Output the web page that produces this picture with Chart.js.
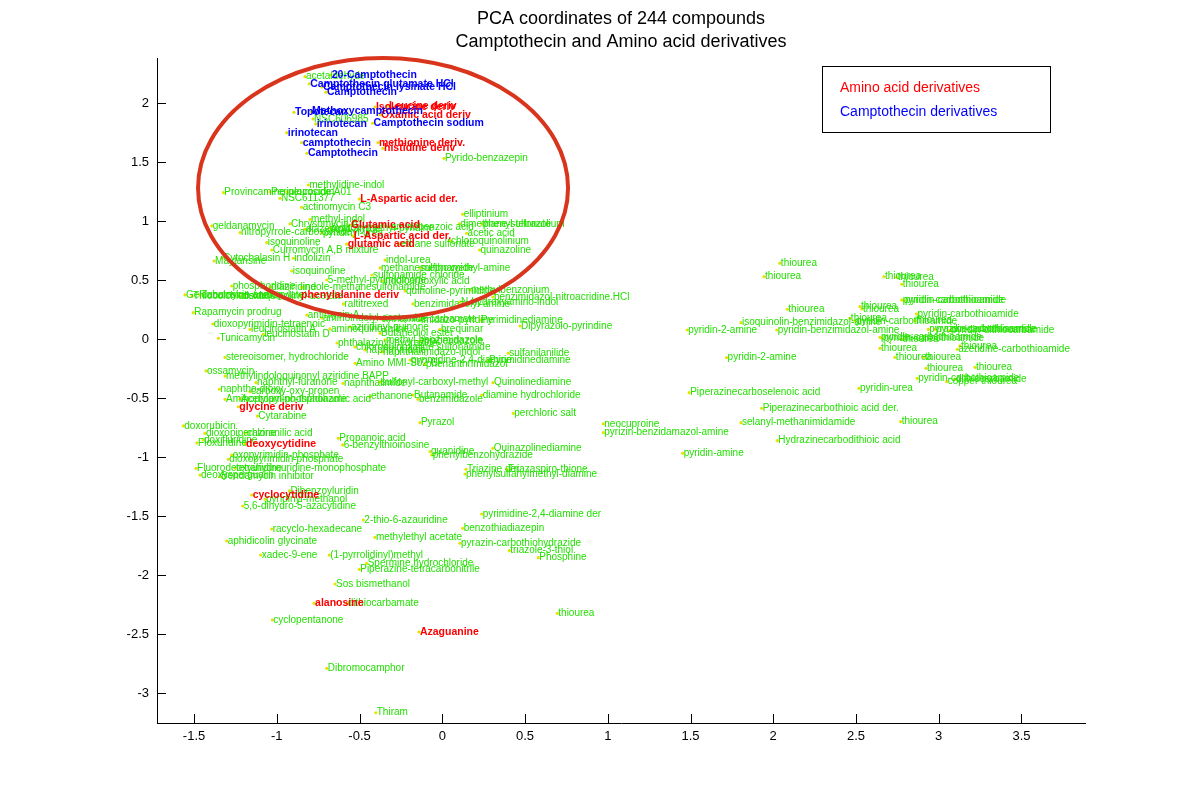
<!DOCTYPE html>
<html>
<head>
<meta charset="utf-8">
<script src="https://cdn.jsdelivr.net/npm/chart.js@4/dist/chart.umd.min.js"></script>
<style>
  html, body { margin: 0; padding: 0; background: #fff; }
  canvas { display: block; }
</style>
</head>
<body>
<canvas id="pca" width="1200" height="812"></canvas>
<script>
// axis ticks
const xTicks = [-1.5, -1, -0.5, 0, 0.5, 1, 1.5, 2, 2.5, 3, 3.5];
const yTicks = [-3, -2.5, -2, -1.5, -1, -0.5, 0, 0.5, 1, 1.5, 2];

// Camptothecin derivatives (blue)
const blueNames = ["20-Camptothecin", "Camptothecin glutamate HCl", "Camptothecin lysinate HCl", "Camptothecin",
  "Topotecan", "Methoxycamptothecin", "irinotecan", "Camptothecin sodium", "irinotecan", "camptothecin", "Camptothecin"];
const blueX = [-0.674, -0.804, -0.727, -0.703, -0.896, -0.793, -0.765, -0.421, -0.940, -0.850, -0.818];
const blueY = [2.237, 2.161, 2.136, 2.091, 1.921, 1.928, 1.822, 1.828, 1.748, 1.664, 1.574];

// Amino acid derivatives (red)
const redNames = ["Isoleucine deriv", "Leucine deriv", "Oxamic acid deriv", "methionine deriv.", "histidine deriv",
  "L-Aspartic acid der.", "Glutamic acid", "L-Aspartic acid der.", "glutamic acid", "phenylalanine deriv",
  "glycine deriv", "deoxycytidine", "cyclocytidine", "alanosine", "Azaguanine"];
const redX = [-0.407, -0.328, -0.376, -0.389, -0.358, -0.502, -0.558, -0.541, -0.578, -0.860,
  -1.233, -1.192, -1.152, -0.775, -0.141];
const redY = [1.966, 1.975, 1.898, 1.664, 1.616, 1.186, 0.966, 0.873, 0.803, 0.369,
  -0.574, -0.890, -1.322, -2.240, -2.483];

// other compounds (green)
const greenNames = [
  "acetaldehyde", "NSC606985", "Pyrido-benzazepin", "methylidine-indol", "Provincamine",
  "Periplocoside A01", "neurocidin", "NSC611377", "actinomycin C3", "methyl-indol",
  "geldanamycin", "Chrysomycin A", "diazepinyl-amide", "aminobenzoic acid", "nitropyrrole-carboxamide",
  "pyridinyl-urea", "isoquinoline", "Curromycin A,B mixture", "Cytochalasin H", "Maytansine",
  "indolizin", "indol-urea", "isoquinoline", "methanesulfonamide", "methoxyethyl-amine",
  "5-methyl-pyrimidinone", "indole-methanesulfonamide", "phosphoridine", "diaziridine", "Geldanamycin analog",
  "Thiocolchicoside", "Tubulosine-carboxylate", "dioxoquinolinyl-acetate", "sulfonamide chloride", "indolcarboxylic acid",
  "quinoline-pyrimidine", "methylbenzonium", "benzimidazol-nitroacridine.HCl", "elliptinium", "dimethane-sulfonate",
  "phenyl-tetrazolium", "acetic acid", "ethane sulfonate", "chloroquinolinium", "quinazoline",
  "hydroxymethyl-pyridine", "raltitrexed", "benzimidazolyl-amine", "N-hydroxyamino-indol", "Rapamycin prodrug",
  "antimycin A", "aminoindolyl-acetamide", "cinnamide carbamate", "imidazo-pyridine", "Pyrimidinediamine",
  "Dipyrazolo-pyrindine", "dioxopyrimidin-tetraenoic", "leucinostatin A", "leucinostatin D", "aminoquinoxaline",
  "aziridinyl-quinone", "brequinar", "Tunicamycin", "Butanediol ester", "methyl-benzimidazole",
  "thiabendazole", "phthalazinyl-hydrazide", "chloroquinoxaline sulfonamide", "naphthyridine", "naphthalimidazo-indol",
  "sulfanilanilide", "pyrimidine-2,4-diamine", "Pyrimidinediamine", "stereoisomer, hydrochloride", "Amino MMI-S02 Cl",
  "phenanthrimidazol", "ossamycin", "methylindoloquinonyl aziridine BAPP", "naphthyl-furanone", "naphthalimide",
  "sulfonyl-carboxyl-methyl", "Quinolinediamine", "naphtho-dioxy", "carboxy-oxy-propen", "ethanone",
  "Butanamide", "diamine hydrochloride", "benzimidazole", "Aminopropyl-phosphonamic acid", "Acetylamino-thiadiazole",
  "perchloric salt", "Cytarabine", "Pyrazol", "doxorubicin", "dioxopiperazine",
  "chloranilic acid", "Floxuridine", "doxifluridine", "Propanoic acid", "6-benzylthioinosine",
  "neocuproine", "pyrizin-benzidamazol-amine", "Quinazolinediamine", "guanidine", "phenylbenzohydrazide",
  "oxopyrimidin-phosphate", "dioxopyrimidin-phosphate", "Fluorodeoxyuridine", "tetrahydrouridine-monophosphate", "deoxyspergualin",
  "Bendamycin inhibitor", "Triazine der.", "Triazaspiro-thione", "phenylsulfanylmethyl-diamine", "Dibenzoyluridin",
  "pyridinyl-methanol", "5,6-dihydro-5-azacytidine", "2-thio-6-azauridine", "pyrimidine-2,4-diamine der", "racyclo-hexadecane",
  "benzothiadiazepin", "methylethyl acetate", "aphidicolin glycinate", "pyrazin-carbothiohydrazide", "triazole-3-thiol",
  "Phosphine", "xadec-9-ene", "(1-pyrrolidinyl)methyl", "Spermine hydrochloride", "Piperazine-tetracarbonitrile",
  "Sos bismethanol", "dithiocarbamate", "thiourea", "cyclopentanone", "Dibromocamphor",
  "Thiram", "thiourea", "thiourea", "thiourea", "isoquinolin-benzimidazol-amine",
  "pyridin-2-amine", "pyridin-benzimidazol-amine", "pyridin-2-amine", "Piperazinecarboselenoic acid", "Piperazinecarbothioic acid der.",
  "selanyl-methanimidamide", "Hydrazinecarbodithioic acid", "pyridin-amine", "pyridin-urea", "thiourea",
  "thiourea", "thiourea", "pyridin-carbothioamide", "pyridin-carbothioamide", "thiourea",
  "thiourea", "pyridin-carbothioamide", "thiourea", "pyridin-carbothioamide", "thiourea",
  "pyrazinecarbothioamide", "pyridin-carbothioamide", "pyridin-dithiocarbamide", "pyridin-carbothioamide", "pyridin-carbothioamide",
  "thiourea", "thiourea", "thiourea", "azetidine-carbothioamide", "thiourea",
  "thiourea", "thiourea", "thiourea", "pyridin-carbothioamide", "copper thiourea",
  "dithiocarbamide", "thiourea"
];
const greenX = [
  -0.830, -0.781, 0.010, -0.810, -1.323, -1.041, -0.938, -0.981, -0.850, -0.799,
  -1.393, -0.920, -0.830, -0.316, -1.222, -0.727, -1.061, -1.031, -1.331, -1.379,
  -0.900, -0.346, -0.910, -0.376, -0.135, -0.698, -0.850, -1.273, -1.040, -1.555,
  -1.512, -1.464, -1.223, -0.425, -0.365, -0.225, 0.167, 0.306, 0.123, 0.103,
  0.240, 0.147, -0.256, 0.047, 0.225, -0.678, -0.598, -0.177, 0.107, -1.505,
  -0.819, -0.727, -0.376, -0.135, 0.228, 0.470, -1.387, -1.162, -1.082, -0.679,
  -0.558, -0.014, -1.353, -0.376, -0.346, -0.135, -0.636, -0.528, -0.467, -0.365,
  0.399, -0.195, 0.276, -1.313, -0.527, -0.105, -1.428, -1.313, -1.126, -0.600,
  -0.376, 0.306, -1.347, -1.162, -0.437, -0.177, 0.238, -0.147, -1.313, -1.223,
  0.429, -1.118, -0.135, -1.565, -1.434, -1.186, -1.482, -1.446, -0.628, -0.602,
  0.973, 0.973, 0.305, -0.074, -0.064, -1.273, -1.293, -1.488, -1.253, -1.464,
  -1.343, 0.143, 0.391, 0.137, -0.924, -1.071, -1.206, -0.477, 0.238, -1.031,
  0.123, -0.407, -1.303, 0.107, 0.405, 0.580, -1.097, -0.683, -0.457, -0.502,
  -0.648, -0.578, 0.695, -1.027, -0.698, -0.402, 2.040, 1.944, 2.085, 1.805,
  1.480, 2.021, 1.718, 1.492, 1.930, 1.805, 2.024, 1.453, 2.518, 2.669,
  2.746, 2.776, 2.776, 2.790, 2.524, 2.536, 2.866, 2.463, 2.494, 2.856,
  2.937, 2.977, 3.068, 2.645, 2.657, 2.776, 2.645, 3.128, 3.112, 2.735,
  2.911, 2.923, 3.219, 2.870, 3.048, 3.098, 2.770
];
const greenY = [
  2.223, 1.864, 1.531, 1.305, 1.240, 1.246, 1.246, 1.192, 1.116, 1.014,
  0.958, 0.975, 0.932, 0.949, 0.901, 0.898, 0.816, 0.754, 0.686, 0.661,
  0.684, 0.669, 0.576, 0.602, 0.602, 0.500, 0.438, 0.449, 0.441, 0.373,
  0.364, 0.373, 0.364, 0.542, 0.492, 0.407, 0.415, 0.356, 1.057, 0.975,
  0.975, 0.896, 0.805, 0.831, 0.754, 0.941, 0.297, 0.297, 0.314, 0.223,
  0.203, 0.178, 0.169, 0.161, 0.161, 0.110, 0.127, 0.082, 0.040, 0.085,
  0.102, 0.082, 0.006, 0.048, -0.008, -0.017, -0.034, -0.068, -0.093, -0.110,
  -0.121, -0.178, -0.178, -0.155, -0.206, -0.212, -0.271, -0.314, -0.370, -0.376,
  -0.364, -0.370, -0.426, -0.447, -0.489, -0.475, -0.475, -0.511, -0.511, -0.508,
  -0.630, -0.653, -0.709, -0.737, -0.799, -0.797, -0.881, -0.856, -0.842, -0.898,
  -0.720, -0.794, -0.926, -0.955, -0.983, -0.983, -1.019, -1.096, -1.093, -1.153,
  -1.167, -1.104, -1.104, -1.144, -1.286, -1.358, -1.415, -1.534, -1.483, -1.610,
  -1.604, -1.681, -1.712, -1.731, -1.794, -1.853, -1.831, -1.831, -1.901, -1.952,
  -2.076, -2.240, -2.325, -2.381, -2.791, -3.167, 0.642, 0.528, 0.252, 0.138,
  0.076, 0.076, -0.158, -0.455, -0.587, -0.709, -0.862, -0.969, -0.418, 0.528,
  0.523, 0.464, 0.331, 0.326, 0.274, 0.254, 0.212, 0.175, 0.153, 0.155,
  0.082, 0.082, 0.074, 0.014, 0.008, -0.003, -0.079, -0.059, -0.087, -0.155,
  -0.155, -0.248, -0.240, -0.333, -0.362, -0.339, -0.701
];

const FONT = "Arial, 'Liberation Sans', Helvetica, sans-serif";

function pts(xs, ys) {
  return xs.map((x, i) => ({ x: x, y: ys[i] }));
}

function makeSet(names, xs, ys, color, font) {
  return {
    data: pts(xs, ys),
    names: names,
    textColor: color,
    textFont: font,
    pointRadius: 1.6,
    pointBackgroundColor: "#e4e400",
    pointBorderWidth: 0,
    showLine: false,
  };
}

// text labels next to every point
const labelPlugin = {
  id: "pointLabels",
  afterDatasetsDraw(chart) {
    const c = chart.ctx;
    c.save();
    c.textBaseline = "middle";
    c.textAlign = "left";
    chart.data.datasets.forEach((ds, i) => {
      const meta = chart.getDatasetMeta(i);
      c.fillStyle = ds.textColor;
      c.font = ds.textFont;
      meta.data.forEach((pt, j) => c.fillText(ds.names[j], pt.x + 1, pt.y));
    });
    c.restore();
  },
};

// title, inward ticks, ellipse and the legend box
const decoPlugin = {
  id: "deco",
  afterDraw(chart) {
    const c = chart.ctx;
    const a = chart.chartArea;
    const xs = chart.scales.x;
    const ys = chart.scales.y;
    c.save();

    c.fillStyle = "#000";
    c.font = "18px " + FONT;
    c.textAlign = "center";
    c.textBaseline = "middle";
    const mid = (a.left + a.right) / 2;
    c.fillText("PCA coordinates of 244 compounds", mid, 19);
    c.fillText("Camptothecin and Amino acid derivatives", mid, 42);

    c.strokeStyle = "#000";
    c.lineWidth = 1;
    c.beginPath();
    xTicks.forEach(t => {
      const px = Math.round(xs.getPixelForValue(t)) + 0.5;
      c.moveTo(px, a.bottom);
      c.lineTo(px, a.bottom - 9);
    });
    yTicks.forEach(t => {
      const py = Math.round(ys.getPixelForValue(t)) + 0.5;
      c.moveTo(a.left, py);
      c.lineTo(a.left + 9, py);
    });
    c.stroke();

    // ellipse around the camptothecin / amino acid group
    const cx = xs.getPixelForValue(-0.358);
    const cy = ys.getPixelForValue(1.28);
    const rx = xs.getPixelForValue(-0.358 + 1.118) - cx;
    const ry = cy - ys.getPixelForValue(1.28 + 1.102);
    c.strokeStyle = "#d9341c";
    c.lineWidth = 4;
    c.beginPath();
    c.ellipse(cx, cy, rx, ry, 0, 0, Math.PI * 2);
    c.stroke();

    // legend
    c.fillStyle = "#fff";
    c.fillRect(822, 66, 228, 66);
    c.strokeStyle = "#000";
    c.lineWidth = 1;
    c.strokeRect(822.5, 66.5, 228, 66);
    c.font = "14px " + FONT;
    c.textAlign = "left";
    c.fillStyle = "#ff0000";
    c.fillText("Amino acid derivatives", 840, 88);
    c.fillStyle = "#0000ff";
    c.fillText("Camptothecin derivatives", 840, 112);

    c.restore();
  },
};

const tickLabel = v => String(Math.round(v * 10) / 10);

new Chart(document.getElementById("pca"), {
  type: "scatter",
  data: {
    datasets: [
      makeSet(greenNames, greenX, greenY, "#22e000", "10px " + FONT),
      makeSet(redNames, redX, redY, "#ff0000", "bold 10.5px " + FONT),
      makeSet(blueNames, blueX, blueY, "#0000ff", "bold 10.5px " + FONT),
    ],
  },
  options: {
    responsive: false,
    animation: false,
    devicePixelRatio: 1,
    layout: { padding: { top: 58, right: 115, bottom: 0, left: 0 } },
    plugins: { legend: { display: false }, tooltip: { enabled: false } },
    scales: {
      x: {
        type: "linear",
        min: -1.724,
        max: 3.884,
        afterBuildTicks: s => { s.ticks = xTicks.map(v => ({ value: v })); },
        afterFit: s => { s.height = 812 - 723; },
        grid: { drawOnChartArea: false, drawTicks: false },
        border: { color: "#000", width: 1 },
        ticks: { color: "#000", font: { size: 13, family: FONT }, padding: 6, callback: tickLabel, maxRotation: 0 },
      },
      y: {
        type: "linear",
        min: -3.254,
        max: 2.381,
        afterBuildTicks: s => { s.ticks = yTicks.map(v => ({ value: v })); },
        afterFit: s => { s.width = 157; },
        grid: { drawOnChartArea: false, drawTicks: false },
        border: { color: "#000", width: 1 },
        ticks: { color: "#000", font: { size: 13, family: FONT }, padding: 8, callback: tickLabel },
      },
    },
  },
  plugins: [labelPlugin, decoPlugin],
});
</script>
</body>
</html>
